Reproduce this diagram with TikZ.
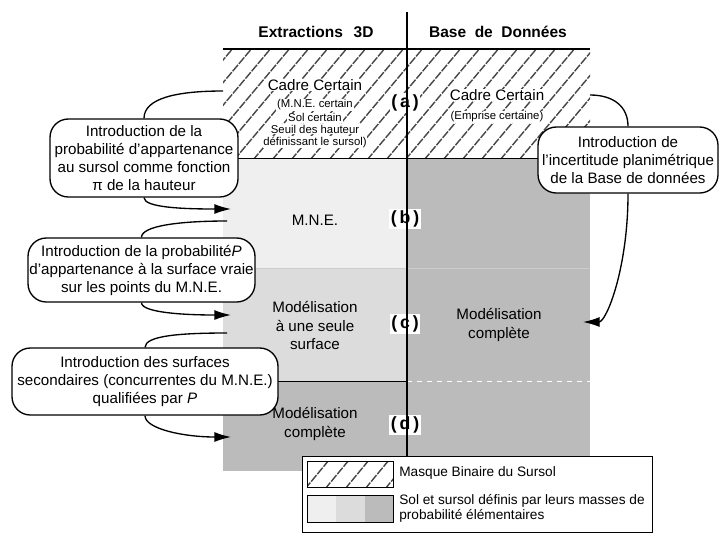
\documentclass[tikz,border=0pt]{standalone}
\usepackage{fontspec}
\setmainfont{Liberation Sans}
\usetikzlibrary{arrows.meta}
\definecolor{fondclair}{HTML}{EFEFEF}
\definecolor{fondmoyen}{HTML}{DCDCDC}
\definecolor{fondfonce}{HTML}{BBBBBB}
\newcommand{\halo}[1]{{\setlength{\fboxsep}{0.5pt}\colorbox{white}{#1}}}
\tikzset{
  callout/.style={draw, fill=white, line width=0.8pt, rounded corners=11pt,
    align=center, inner sep=0pt, font=\fontsize{9.1}{10.8}\selectfont},
  texte/.style={align=center, inner sep=0pt, font=\fontsize{9.1}{10.9}\selectfont},
  petit/.style={align=center, inner sep=0pt, font=\fontsize{6.8}{7}\selectfont},
  entete/.style={inner sep=0pt, font=\bfseries\fontsize{9.3}{11}\selectfont},
  rowlabel/.style={fill=white, inner sep=0.8pt, font=\bfseries\fontsize{10.6}{12}\selectfont},
  legende/.style={anchor=west, align=left, inner sep=0pt, font=\fontsize{8.2}{9}\selectfont},
  hachure/.style={black!72, line width=0.85pt, dash pattern=on 5pt off 0.8pt},
  lien/.style={line width=0.8pt},
  fleche/.style={line width=0.8pt, -{Latex[length=10pt,width=6pt]}}
}
\begin{document}
\begin{tikzpicture}[x=0.6pt,y=-0.6pt]
\useasboundingbox (0,0) rectangle (719,533);

% fonds des lignes (b) a (d)
\fill[fondclair] (223,158) rectangle (407,268.5);
\fill[fondmoyen] (223,268.5) rectangle (407,381);
\fill[fondfonce] (223,381) rectangle (407,471);
\fill[fondfonce] (407,158) rectangle (590,471);

% ligne (a) hachuree
\begin{scope}
\clip (223,49) rectangle (590,158);
\foreach \hx in {120,139,...,600}
  \draw[hachure] (\hx,160) -- ++(95,-113);
\end{scope}
\draw[line width=0.8pt] (223,49) -- (590,49);
\draw[line width=0.6pt] (223,158) -- (590,158);
\draw[black!20, line width=0.4pt] (223,268.5) -- (590,268.5);
\draw[line width=0.6pt] (223,381) -- (407,381);
\draw[white, line width=0.5pt, dash pattern=on 3pt off 3pt] (407,381) -- (590,381);

% titres
\node[entete] (titreE) at (316,32) {Extractions\hspace{0.7em}3D};
\node[entete] (titreD) at (498,32) {Base\hspace{0.55em}de\hspace{0.55em}Données};

% contenu des cases
\node[texte] (cadreE) at (315,85) {\halo{Cadre Certain}};
\node[petit] (cadreEdet) at (315,123.5) {\halo{(M.N.E. certain}\\\halo{Sol certain}\\\halo{Seuil des hauteur}\\\halo{définissant le sursol)}};
\node[texte] (cadreD) at (497,95) {\halo{Cadre Certain}};
\node[petit] (cadreDdet) at (497,117) {\halo{(Emprise certaine)}};
\node[texte] (mne) at (315,220) {M.N.E.};
\node[texte] (unesurf) at (315,325.5) {Modélisation\\à une seule\\surface};
\node[texte] (complD) at (499,325) {Modélisation\\complète};
\node[texte] (complE) at (315,424) {Modélisation\\complète};

% reperes des lignes
\node[rowlabel] (lignea) at (405,103) {(\,a\,)};
\node[rowlabel] (ligneb) at (405,219) {(\,b\,)};
\node[rowlabel] (lignec) at (405,324) {(\,c\,)};
\node[rowlabel] (ligned) at (405,425) {(\,d\,)};
\draw[line width=1.2pt] (407,12) -- (407,456);

% bulles
\node[callout, minimum width=112.8pt, minimum height=46.8pt] (introsursol) at (144,158)
  {Introduction de la\\probabilité d’appartenance\\au sursol comme fonction\\π de la hauteur};
\node[callout, minimum width=136.2pt, minimum height=38.4pt] (introP) at (141.5,270)
  {Introduction de la probabilité\textit{P}\\d’appartenance à la surface vraie\\sur les points du M.N.E.};
\node[callout, minimum width=159.6pt, minimum height=40.2pt] (introsec) at (145,381.5)
  {Introduction des surfaces\\secondaires (concurrentes du M.N.E.)\\qualifiées par \textit{P}};
\node[callout, minimum width=108pt, minimum height=39.6pt] (introplani) at (628,160)
  {Introduction de\\l’incertitude planimétrique\\de la Base de données};

% liens
\coordinate (cadreEin) at (223,91);
\coordinate (mneIn) at (231,209);
\coordinate (mneOut) at (227,221);
\coordinate (surfIn) at (231,315);
\coordinate (surfOut) at (227,333);
\coordinate (complIn) at (231,437);
\coordinate (cadreDin) at (590,95);
\coordinate (complDin) at (583,322);

\draw[lien] (introsursol.north) to[out=90,in=180,out distance=12pt,in distance=28pt] (cadreEin);
\draw[fleche] (introsursol.south) to[out=-90,in=180,out distance=6pt,in distance=28pt] (mneIn);
\draw[lien] (mneOut) to[out=180,in=90,out distance=28pt,in distance=7pt] (introP.north);
\draw[fleche] (introP.south) to[out=-90,in=180,out distance=6pt,in distance=28pt] (surfIn);
\draw[lien] (surfOut) to[out=180,in=90,out distance=28pt,in distance=7pt] (introsec.north);
\draw[fleche] (introsec.south) to[out=-90,in=180,out distance=8pt,in distance=28pt] (complIn);
\draw[lien] (introplani.north) to[out=90,in=0,out distance=12pt,in distance=14pt] (cadreDin);
\draw[fleche] (introplani.south) to[out=-90,in=0,out distance=45pt,in distance=14pt] (complDin);

% legende
\draw[line width=0.6pt, fill=white] (302,456) rectangle (652,532);
\begin{scope}
\clip (307,461) rectangle (393,487);
\foreach \hx in {285,305,...,400}
  \draw[hachure] (\hx,489) -- ++(24,-29);
\end{scope}
\draw[line width=0.6pt] (307,461) rectangle (393,487);
\fill[fondclair] (307,495) rectangle (336,522);
\fill[fondmoyen] (336,495) rectangle (365,522);
\fill[fondfonce] (365,495) rectangle (393,522);
\draw[line width=0.6pt] (307,495) rectangle (393,522);
\node[legende] (legmasque) at (399,473) {Masque Binaire du Sursol};
\node[legende] (legmasses) at (399,508) {Sol et sursol définis par leurs masses de\\probabilité élémentaires};
\end{tikzpicture}
\end{document}
